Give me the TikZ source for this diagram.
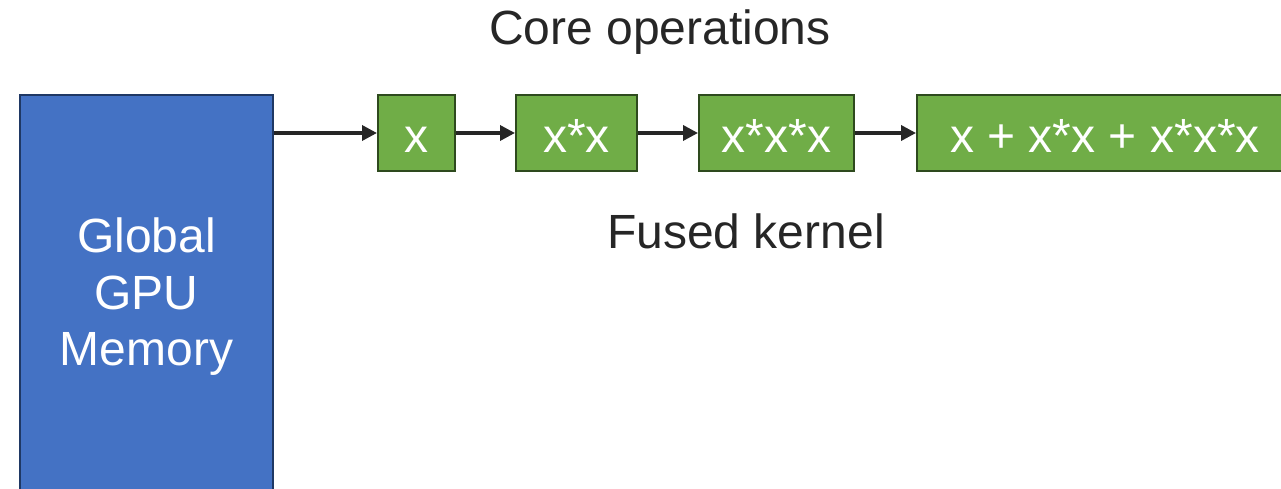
\documentclass[tikz,border=0pt]{standalone}
\usepackage{fontspec}
\setmainfont{Liberation Sans}
\usetikzlibrary{arrows.meta}
\definecolor{memfill}{HTML}{4472C4}
\definecolor{memline}{HTML}{1F3864}
\definecolor{opfill}{HTML}{70AD47}
\definecolor{opline}{HTML}{2E4A1E}
\definecolor{ink}{HTML}{262626}
\tikzset{
  big/.style={font=\fontsize{48}{56.5}\selectfont},
  membox/.style={draw=memline, fill=memfill, line width=2pt, text=white, big,
    align=center, inner sep=0pt},
  opbox/.style={draw=opline, fill=opfill, line width=2pt, text=white, big,
    inner sep=0pt, minimum height=76pt, text height=40pt, text depth=0pt},
  title/.style={text=ink, big, inner sep=0pt, anchor=base},
  flow/.style={draw=ink, line width=3.5pt, -{Triangle[length=15pt,width=15pt]}}
}
\begin{document}
\begin{tikzpicture}[x=1pt,y=-1pt]
  \useasboundingbox (0,0) rectangle (1281,489);
  \clip (0,0) rectangle (1281,489);

  % global memory block (runs off the bottom edge)
  \node[membox, minimum width=253pt, minimum height=404pt] (mem) at (146.5,297)
    {Global\\GPU\\Memory};

  % chain of fused operations
  \node[opbox, minimum width=77pt]  (op1) at (416.5,133) {x};
  \node[opbox, minimum width=121pt] (op2) at (576.5,133) {x*x};
  \node[opbox, minimum width=155pt] (op3) at (776.5,133) {x*x*x};
  \node[opbox, minimum width=376pt] (op4) at (1105,133) {x + x*x + x*x*x};

  % captions
  \node[title] (core) at (660,45) {Core operations};
  \node[title] (fused) at (746,248) {Fused kernel};

  % data flow
  \draw[flow] (mem.east |- op1.west) -- (op1.west);
  \draw[flow] (op1.east) -- (op2.west);
  \draw[flow] (op2.east) -- (op3.west);
  \draw[flow] (op3.east) -- (op4.west);
\end{tikzpicture}
\end{document}
